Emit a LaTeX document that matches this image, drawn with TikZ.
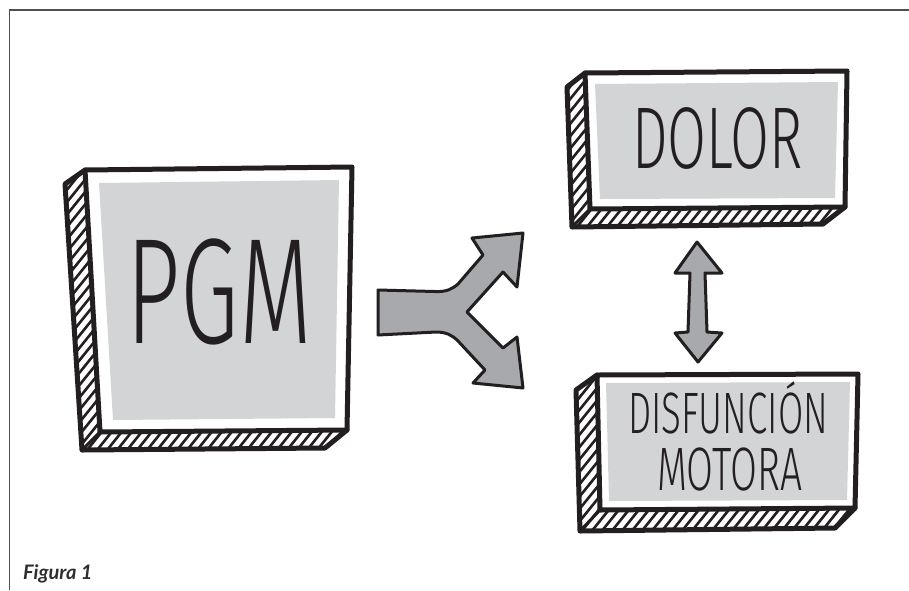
\documentclass[tikz,border=0pt]{standalone}
\usepackage{fontspec}
\usepackage{graphicx}
\setmainfont{Lato}
\newfontfamily\hand{Fira Sans Light}

\definecolor{ink}{HTML}{231F20}
\definecolor{panelgray}{HTML}{D3D4D6}
\definecolor{arrowgray}{HTML}{A7A9AC}
\definecolor{framecol}{HTML}{505050}
\definecolor{figtext}{HTML}{2E2E2E}

% hand lettering squeezed to a given width and cap height
\newcommand\handtext[3]{\resizebox{#1}{#2}{\hand\raisebox{0pt}[\fontcharht\font`H][0pt]{#3}}}

% a slab: front face (A,B,C,D), extruded edge (As,Ds,Cs), grey panel (a,b,c,d)
\newcommand\slab[1]{%
  \begin{scope}
    \clip (#1A) -- (#1As) -- (#1Ds) -- (#1Cs) -- (#1C) -- (#1D) -- cycle;
    \fill[white] (#1A) -- (#1As) -- (#1Ds) -- (#1Cs) -- (#1C) -- (#1D) -- cycle;
    \foreach \t in {0,10,...,1400} \draw[hatchline] (\t-450,620) -- ++(500,-620);
  \end{scope}
  \draw[rim] (#1A) -- (#1As) -- (#1Ds) -- (#1Cs) -- (#1C);
  \draw[ink,line width=3pt,line cap=round] (#1D) -- (#1Ds);
  \draw[face] (#1A) -- (#1B) -- (#1C) -- (#1D) -- cycle;
  \fill[panelgray] (#1a) -- (#1b) -- (#1c) -- (#1d) -- cycle;
}

\begin{document}
\begin{tikzpicture}[x=1pt,y=-1pt,
  face/.style={fill=white,draw=ink,line width=5pt,line join=round},
  rim/.style={draw=ink,line width=5pt,line join=round,line cap=round},
  hatchline/.style={draw=ink,line width=2.6pt},
  arrowshape/.style={fill=arrowgray,draw=ink,line width=3pt,line join=round},
  hlabel/.style={inner sep=0pt,text=ink}]
\useasboundingbox (0,0) rectangle (909,590);

% page frame
\draw[framecol,line width=1.6pt] (9.5,590) -- (9.5,10) -- (909,10);

% PGM slab
\coordinate (pgmA) at (85,170);   \coordinate (pgmB) at (352,167);
\coordinate (pgmC) at (347,430);  \coordinate (pgmD) at (100,432);
\coordinate (pgmAs) at (65,184);  \coordinate (pgmDs) at (82,450);
\coordinate (pgmCs) at (325,448);
\coordinate (pgma) at (99,183);   \coordinate (pgmb) at (339,180);
\coordinate (pgmc) at (335,418);  \coordinate (pgmd) at (113,420);
\slab{pgm}

% DOLOR slab
\coordinate (dolA) at (585,73);   \coordinate (dolB) at (847,71);
\coordinate (dolC) at (845,207);  \coordinate (dolD) at (590,209);
\coordinate (dolAs) at (567,87);  \coordinate (dolDs) at (572,227);
\coordinate (dolCs) at (823,224);
\coordinate (dola) at (595,84);   \coordinate (dolb) at (838,82);
\coordinate (dolc) at (835,198);  \coordinate (dold) at (600,199);
\slab{dol}

% DISFUNCION MOTORA slab
\coordinate (disA) at (597,375);  \coordinate (disB) at (858,374);
\coordinate (disC) at (855,508);  \coordinate (disD) at (600,510);
\coordinate (disAs) at (576,390); \coordinate (disDs) at (580,531);
\coordinate (disCs) at (835,528);
\coordinate (disa) at (606,383);  \coordinate (disb) at (850,382);
\coordinate (disc) at (847,500);  \coordinate (disd) at (609,501);
\slab{dis}

% labels
\node[hlabel] (pgm) at (219.5,291.5) {\handtext{185pt}{103pt}{PGM}};
\node[hlabel] (dolor) at (717.5,138) {\handtext{171pt}{60pt}{DOLOR}};
\node[hlabel] (disf) at (728,413) {\handtext{200pt}{40pt}{DISFUNCIÓN}};
\node[hlabel] (motora) at (729.5,469) {\handtext{145pt}{42pt}{MOTORA}};

% branching arrow
\draw[arrowshape] (378,290) -- (435,291.5)
  .. controls (447,292) and (452,289) .. (458,284)
  -- (483,255) -- (472,238) -- (523,233) -- (517,287) -- (503,272)
  -- (467,312) -- (503,348) -- (517,337) -- (523,388) -- (473,383)
  -- (485,370) -- (458,341)
  .. controls (452,335) and (446,332) .. (436,332)
  -- (378,335) -- cycle;

% two-way arrow
\draw[arrowshape] (697,242) -- (722,273) -- (705,273) -- (707,332)
  -- (722,333) -- (698,362) -- (675,333) -- (688,332) -- (690,273)
  -- (675,273) -- cycle;

% caption
\node[anchor=base west,inner sep=0pt,text=figtext,
  font=\fontsize{20}{22}\selectfont\bfseries\itshape] (caption) at (23,579) {Figura 1};
\end{tikzpicture}
\end{document}
